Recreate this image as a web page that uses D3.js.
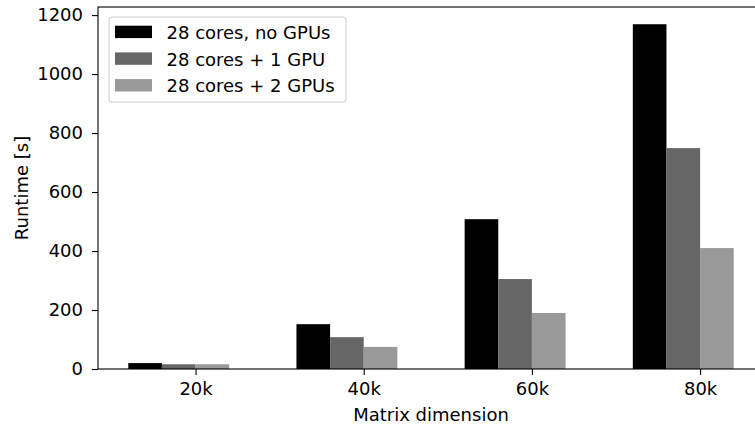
<!DOCTYPE html>
<html>
<head>
<meta charset="utf-8">
<script src="https://cdn.jsdelivr.net/npm/d3@7"></script>
<style>
  html, body { margin: 0; padding: 0; background: #fff; }
  svg { display: block; }
  text { font-family: "DejaVu Sans", sans-serif; fill: #000; }
</style>
</head>
<body>
<svg id="chart" width="755" height="427"></svg>
<script>
// Runtime of the matrix computation by problem size and hardware setup
const categories = ["20k", "40k", "60k", "80k"];
const seriesNames = ["28 cores, no GPUs", "28 cores + 1 GPU", "28 cores + 2 GPUs"];
const noGpu  = [20, 152, 508, 1169];
const oneGpu = [16, 108, 305, 749];
const twoGpu = [16, 75, 190, 410];
const yTicks = [0, 200, 400, 600, 800, 1000, 1200];
const seriesColors = ["#000000", "#666666", "#999999"];

const series = [noGpu, oneGpu, twoGpu];

const svg = d3.select("#chart");
const plotLeft = 98, plotRight = 764, plotTop = 7, plotBottom = 369;
const fontSize = 18;

const barW = 0.2;
// bars sit at i-2w, i-w, i (left edges); padded 5% on each side
const x0 = -2 * barW, x1 = categories.length - 1 + barW;
const pad = (x1 - x0) * 0.05;
const x = d3.scaleLinear().domain([x0 - pad, x1 + pad]).range([plotLeft, plotRight]);
const yMax = d3.max(noGpu.concat(oneGpu, twoGpu)) * 1.05;
const y = d3.scaleLinear().domain([0, yMax]).range([plotBottom, plotTop]);

// bars
series.forEach((vals, s) => {
  svg.append("g").selectAll("rect")
    .data(vals)
    .join("rect")
    .attr("x", (d, i) => x(i + (s - 2) * barW))
    .attr("width", (d, i) => x(i + (s - 1) * barW) - x(i + (s - 2) * barW))
    .attr("y", d => y(d))
    .attr("height", d => y(0) - y(d))
    .attr("fill", seriesColors[s]);
});

// axes
const yAxis = d3.axisLeft(y).tickValues(yTicks).tickSize(6).tickPadding(9).tickFormat(d3.format("d"));
const gy = svg.append("g").attr("transform", `translate(${plotLeft},0)`).call(yAxis);
const xAxis = d3.axisBottom(x).tickValues(d3.range(categories.length)).tickSize(6).tickPadding(7)
  .tickFormat(i => categories[i]);
const gx = svg.append("g").attr("transform", `translate(0,${plotBottom})`).call(xAxis);
[gx, gy].forEach(g => {
  g.select(".domain").remove();
  g.selectAll(".tick line").attr("stroke", "#000").attr("stroke-width", 1.1);
  g.selectAll(".tick text").style("font-size", fontSize + "px").attr("fill", "#000");
});

// frame
svg.append("rect")
  .attr("x", plotLeft).attr("y", plotTop)
  .attr("width", plotRight - plotLeft).attr("height", plotBottom - plotTop)
  .attr("fill", "none").attr("stroke", "#000").attr("stroke-width", 1.1);

// axis titles
svg.append("text")
  .attr("x", (plotLeft + plotRight) / 2).attr("y", 421)
  .attr("text-anchor", "middle").style("font-size", fontSize + "px")
  .text("Matrix dimension");
svg.append("text")
  .attr("transform", `translate(28,${(plotTop + plotBottom) / 2}) rotate(-90)`)
  .attr("text-anchor", "middle").style("font-size", fontSize + "px")
  .text("Runtime [s]");

// legend
const lg = svg.append("g").attr("transform", "translate(109,17)");
lg.append("rect")
  .attr("width", 237).attr("height", 85).attr("rx", 3)
  .attr("fill", "#fff").attr("fill-opacity", 0.8)
  .attr("stroke", "#cccccc").attr("stroke-width", 1);
seriesNames.forEach((name, s) => {
  const row = lg.append("g").attr("transform", `translate(0,${8.7 + s * 26.7})`);
  row.append("rect").attr("x", 6).attr("y", 0).attr("width", 37).attr("height", 12.4)
    .attr("fill", seriesColors[s]);
  row.append("text").attr("x", 57.5).attr("y", 13.3)
    .style("font-size", fontSize + "px").text(name);
});
</script>
</body>
</html>
